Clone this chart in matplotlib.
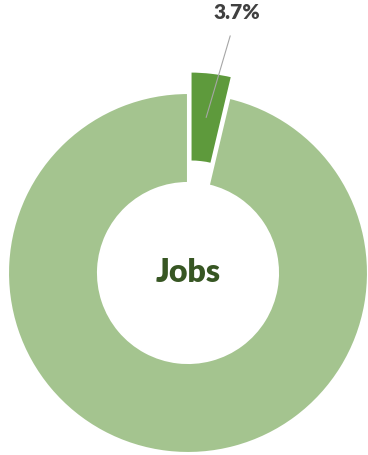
import numpy as np
import matplotlib.pyplot as plt

# data
labels = ['Jobs', 'Other']
shares = [3.7, 96.3]
colors = ['#5E9A3C', '#A4C48F']
explode = [0.12, 0.0]
center_text = 'Jobs'

fig = plt.figure(figsize=(3.68, 4.55), dpi=100)
ax = fig.add_axes([0, 0, 1, 1])
ax.set_aspect('equal')
ax.axis('off')

wedges, _ = ax.pie(shares, colors=colors, explode=explode, startangle=90,
                   counterclock=False, radius=1.0,
                   wedgeprops=dict(width=0.5, edgecolor='white', linewidth=1.5))

# leader line from middle of the small wedge to its label
w = wedges[0]
ang = np.deg2rad((w.theta1 + w.theta2) / 2)
r_mid = 0.75 + explode[0]
ax.annotate(f'{shares[0]:.1f}%', xy=(r_mid * np.cos(ang), r_mid * np.sin(ang)),
            xytext=(0.272, 1.445), ha='center', va='center',
            fontsize=15, fontweight='heavy', family='Lato', color='#404040',
            arrowprops=dict(arrowstyle='-', color='#A6A6A6', lw=0.8,
                            shrinkA=8, shrinkB=0))

ax.text(0, 0, center_text, ha='center', va='center', fontsize=23,
        fontweight='heavy', family='Lato', color='#375623')

ax.set_xlim(-188 / 180, 180 / 180)
ax.set_ylim(-182 / 180, 273 / 180)

fig.savefig('out.png', dpi=100)
